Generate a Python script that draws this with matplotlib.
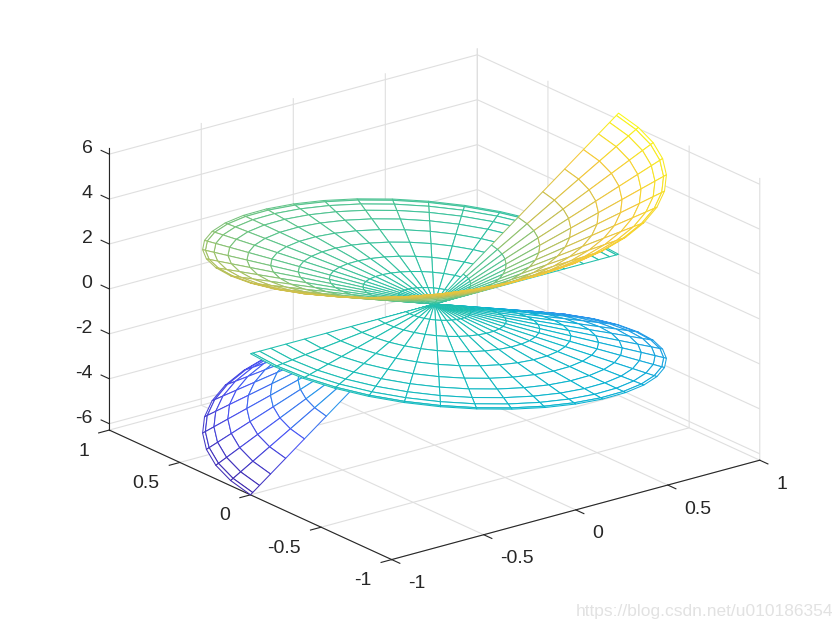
#!/usr/bin/env python3
"""Wire mesh of the twisted sheet z = r * t, coloured by height."""

import numpy as np
import matplotlib

matplotlib.use("Agg")
import matplotlib.pyplot as plt
from matplotlib.colors import LinearSegmentedColormap
from mpl_toolkits.mplot3d.art3d import Poly3DCollection

plt.rcParams["font.family"] = ["Liberation Sans", "DejaVu Sans"]

# Mesh rows and columns: the rings bunch up at the rim.
RING_R = [
    -1.0, -0.988, -0.951, -0.891, -0.809, -0.707, -0.588, -0.454, -0.309, -0.156, 0.0,
    0.156, 0.309, 0.454, 0.588, 0.707, 0.809, 0.891, 0.951, 0.988, 1.0,
]
SPOKE_DEG = [
    0, 9, 18, 27, 36, 45, 54, 63, 72, 81, 90, 99, 108, 117, 126, 135, 144, 153, 162, 171, 180,
    189, 198, 207, 216, 225, 234, 243, 252, 261, 270, 279, 288, 297, 306, 315, 324, 333, 342, 351, 360,
]

XTICKS = [-1, -0.5, 0, 0.5, 1]
YTICKS = [-1, -0.5, 0, 0.5, 1]
ZTICKS = [-6, -4, -2, 0, 2, 4, 6]
TICK_LABELS = ["-1", "-0.5", "0", "0.5", "1"]
ZTICK_LABELS = ["-6", "-4", "-2", "0", "2", "4", "6"]
ZLIM = 6.2832

PARULA = ["#3e26a8", "#4852f4", "#2797eb", "#08b3d1", "#1fc0ac", "#5cc48a", "#c8bf50", "#f5c838", "#f9fb15"]
TEXT_COL = "#262626"
GRID_COL = "#dfdfdf"

t_grid, r_grid = np.meshgrid(np.radians(SPOKE_DEG), RING_R)
x = r_grid * np.cos(t_grid)
y = r_grid * np.sin(t_grid)
z = r_grid * t_grid

cmap = LinearSegmentedColormap.from_list("parula", PARULA)

polys = []
edge_cols = []
for i in range(len(RING_R) - 1):
    for j in range(len(SPOKE_DEG) - 1):
        ii = [i, i, i + 1, i + 1]
        jj = [j, j + 1, j + 1, j]
        polys.append(np.column_stack([x[ii, jj], y[ii, jj], z[ii, jj]]))
        edge_cols.append(cmap((z[ii, jj].mean() + ZLIM) / (2 * ZLIM)))

fig = plt.figure(figsize=(8.4, 6.3), dpi=100)
size_px = 701
left_px = 434.5 - 0.5135 * size_px
bottom_px = (630 - 304) - 0.5135 * size_px
ax = fig.add_axes([left_px / 840, bottom_px / 630, size_px / 840, size_px / 630], projection="3d", proj_type="ortho")
ax.view_init(elev=20.6, azim=-127.5)
ax.set_box_aspect((1, 1, 0.65))
ax.patch.set_alpha(0)

mesh = Poly3DCollection(polys, facecolors="white", edgecolors=edge_cols, linewidths=0.75)
ax.add_collection3d(mesh)

ax.set_xlim(-1, 1)
ax.set_ylim(-1, 1)
ax.set_zlim(-ZLIM, ZLIM)
ax.set_xticks(XTICKS, TICK_LABELS)
ax.set_yticks(YTICKS, TICK_LABELS)
ax.set_zticks(ZTICKS, ZTICK_LABELS)

for axis in (ax.xaxis, ax.yaxis, ax.zaxis):
    axis.set_pane_color((1, 1, 1, 0))
    axis.pane.set_edgecolor((1, 1, 1, 0))
    axis.line.set_color(TEXT_COL)
    axis.line.set_linewidth(0.8)
    axis._axinfo["grid"].update(color=GRID_COL, linewidth=0.8)
    axis.set_tick_params(labelsize=14, labelcolor=TEXT_COL, color=TEXT_COL, width=0.8)

# "lower" flips the tick sign on x and y, so their outward ticks count as inward here
ax.xaxis._axinfo["tick"].update(inward_factor=0.36, outward_factor=0.0)
ax.yaxis._axinfo["tick"].update(inward_factor=0.36, outward_factor=0.0)
ax.zaxis._axinfo["tick"].update(inward_factor=0.0, outward_factor=0.36)

ax.xaxis.set_ticks_position("lower")
ax.yaxis.set_ticks_position("lower")
ax.zaxis.set_ticks_position("upper")
ax.zaxis._get_tickdir = lambda position: 1  # z ticks run along y in the reference

ax.xaxis.set_tick_params(pad=7.3)
ax.yaxis.set_tick_params(pad=6.5)
ax.zaxis.set_tick_params(pad=-1.2)

for label in ax.get_xticklabels():
    label.set_ha("left")
    label.set_va("center")
for label in ax.get_yticklabels():
    label.set_ha("right")
    label.set_va("center")
for label in ax.get_zticklabels():
    label.set_ha("right")
    label.set_va("baseline")

fig.text(0.992, 0.03, "https://blog.csdn.net/u010186354", ha="right", va="center",
         fontsize=12.5, color="#e2e2e2")

fig.savefig("out.png", dpi=100)
